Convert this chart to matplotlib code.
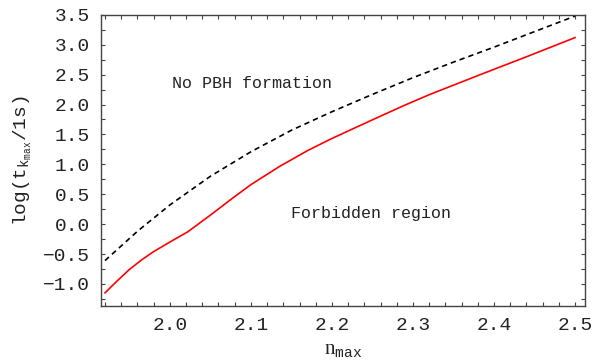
import matplotlib
matplotlib.use("Agg")
import matplotlib.pyplot as plt
from matplotlib.ticker import MultipleLocator

plt.rcParams['mathtext.fontset'] = 'custom'
plt.rcParams['mathtext.rm'] = 'Liberation Mono'
plt.rcParams['mathtext.sf'] = 'Liberation Serif'
plt.rcParams['mathtext.it'] = 'Liberation Mono'

# Data
bound_x = [1.920, 1.960, 2.000, 2.050, 2.100, 2.150, 2.200, 2.250, 2.300, 2.350, 2.400, 2.450, 2.500]
bound_y = [-0.61, -0.12, 0.32, 0.80, 1.21, 1.57, 1.88, 2.17, 2.45, 2.71, 2.96, 3.22, 3.48]

red_x = [1.920, 1.935, 1.950, 1.965, 1.980, 2.000, 2.022, 2.050, 2.078, 2.100,
         2.136, 2.170, 2.198, 2.230, 2.259, 2.290, 2.321, 2.383, 2.444, 2.500]
red_y = [-1.15, -0.95, -0.76, -0.60, -0.46, -0.30, -0.13, 0.15, 0.44, 0.66,
         0.97, 1.23, 1.42, 1.62, 1.80, 1.99, 2.17, 2.50, 2.82, 3.12]

xticks = [2.0, 2.1, 2.2, 2.3, 2.4, 2.5]
yticks = [-1.0, -0.5, 0.0, 0.5, 1.0, 1.5, 2.0, 2.5, 3.0, 3.5]

fig = plt.figure(figsize=(6.0, 3.63), dpi=100)
ax = fig.add_axes([0.168, 0.157, 0.807, 0.802])

ax.plot(bound_x, bound_y, color='black', lw=1.2, ls=(0, (3.2, 2.4)))
ax.plot(red_x, red_y, color='#ff0000', lw=1.2)

ax.set_xlim(1.9148, 2.5123)
ax.set_ylim(-1.37, 3.5)

ax.set_xticks(xticks)
ax.set_yticks(yticks)
ax.set_xticklabels([f"{v:.1f}" for v in xticks])
ax.set_yticklabels([f"{v:.1f}".replace('-', '\u2212') for v in yticks])
ax.xaxis.set_minor_locator(MultipleLocator(0.02))
ax.yaxis.set_minor_locator(MultipleLocator(0.25))

for lab in ax.get_xticklabels() + ax.get_yticklabels():
    lab.set_fontfamily('Liberation Mono')
    lab.set_fontsize(14)
    lab.set_color('#222222')

ax.tick_params(which='both', direction='in', top=True, right=True,
               length=3, width=0.8, color='#444444', pad=8)
for sp in ax.spines.values():
    sp.set_color('#444444')
    sp.set_linewidth(1.0)

ax.set_xlabel(r'$\mathsf{n}_{\mathrm{max}}$', fontsize=15, color='#222222', labelpad=4)
ax.set_ylabel(r'$\mathrm{log(t_{k_{max}}/1s)}$', fontsize=14, color='#222222', labelpad=6)

ax.text(2.101, 2.36, 'No PBH formation', fontfamily='Liberation Mono', fontsize=12,
        ha='center', va='center', color='#222222')
ax.text(2.248, 0.17, 'Forbidden region', fontfamily='Liberation Mono', fontsize=12,
        ha='center', va='center', color='#222222')

fig.savefig('out.png', dpi=100)
